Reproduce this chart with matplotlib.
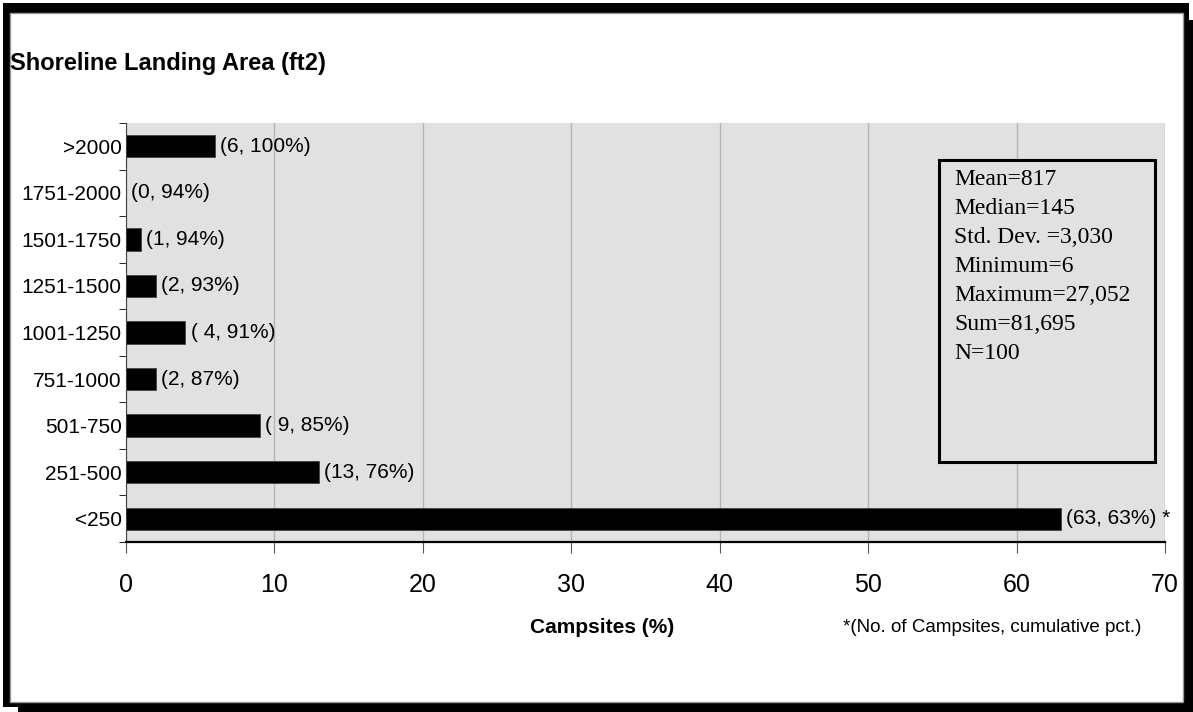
import numpy as np
import matplotlib
matplotlib.use('agg')
import matplotlib.pyplot as plt
from matplotlib.patches import Rectangle

# landing area classes (ft2), shown from top to bottom
classes = ['>2000', '1751-2000', '1501-1750', '1251-1500', '1001-1250',
           '751-1000', '501-750', '251-500', '<250']
pct = [6, 0, 1, 2, 4, 2, 9, 13, 63]
counts = [6, 0, 1, 2, 4, 2, 9, 13, 63]
cum_pct = [100, 94, 94, 93, 91, 87, 85, 76, 63]
pads = ['', '', '', '', ' ', '', ' ', '', '']

stats = ['Mean=817', 'Median=145', 'Std. Dev. =3,030', 'Minimum=6',
         'Maximum=27,052', 'Sum=81,695', 'N=100']

plt.rcParams['font.family'] = 'Liberation Sans'

fig = plt.figure(figsize=(11.93, 7.12), dpi=100)

# outer frame with drop shadow
fig.patches.append(Rectangle((0.0025, 0.00702), 0.9941, 0.98877, transform=fig.transFigure,
                             facecolor='black', edgecolor='none', zorder=-10))
fig.patches.append(Rectangle((0.01509, 0.0), 0.98491, 0.97191, transform=fig.transFigure,
                             facecolor='black', edgecolor='none', zorder=-10))
fig.patches.append(Rectangle((0.00838, 0.01404), 0.98324, 0.9677, transform=fig.transFigure,
                             facecolor='white', edgecolor='#999999', linewidth=1, zorder=-9))

ax = fig.add_axes([0.1056, 0.2388, 0.871, 0.5884])
ax.set_facecolor('#e1e1e1')
y = np.arange(len(classes))[::-1]
ax.barh(y, pct, height=0.48, color='black', edgecolor='#444444', linewidth=0.6, zorder=3)

for yi, v, c, cp, p in zip(y, pct, counts, cum_pct, pads):
    lab = '(' + p + str(c) + ', ' + str(cp) + '%)'
    if v == max(pct):
        lab += ' *'
    ax.text(v + 0.35, yi, lab, va='center', ha='left', fontsize=15, zorder=4)

ax.set_xlim(0, 70)
ax.set_ylim(-0.5, len(classes) - 0.5)
ax.set_xticks(np.arange(0, 71, 10))
ax.xaxis.grid(True, color='#b4b4b4', linewidth=1, zorder=0)
ax.set_yticks(y)
ax.set_yticklabels(classes, fontsize=15)
ax.set_yticks(np.arange(-0.5, len(classes), 1), minor=True)
ax.tick_params(axis='y', which='major', length=0, pad=3)
ax.tick_params(axis='y', which='minor', length=5, direction='out', color='black')
ax.tick_params(axis='x', length=8, direction='out', labelsize=18, pad=14, color='#555555')
for s in ['top', 'right']:
    ax.spines[s].set_visible(False)
ax.spines['left'].set_color('#444444')
ax.spines['bottom'].set_color('black')
ax.spines['bottom'].set_linewidth(1.6)

fig.text(0.5046, 0.118, 'Campsites (%)', fontsize=15, fontweight='bold',
         ha='center', va='center')
fig.text(0.707, 0.118, '*(No. of Campsites, cumulative pct.)', fontsize=13.5,
         ha='left', va='center')
fig.text(0.008, 0.911, 'Shoreline Landing Area (ft2)', fontsize=17,
         fontweight='bold', ha='left', va='center')

# summary statistics box
box = Rectangle((0.7875, 0.351), 0.181, 0.424, transform=fig.transFigure,
                facecolor='#e1e1e1', edgecolor='black', linewidth=2.2, zorder=5)
fig.patches.append(box)
for i, s in enumerate(stats):
    fig.text(0.8, 0.7472 - i * 0.0405, s, family='Liberation Serif', fontsize=17,
             ha='left', va='center', zorder=6)

plt.savefig('out.png', dpi=100)
